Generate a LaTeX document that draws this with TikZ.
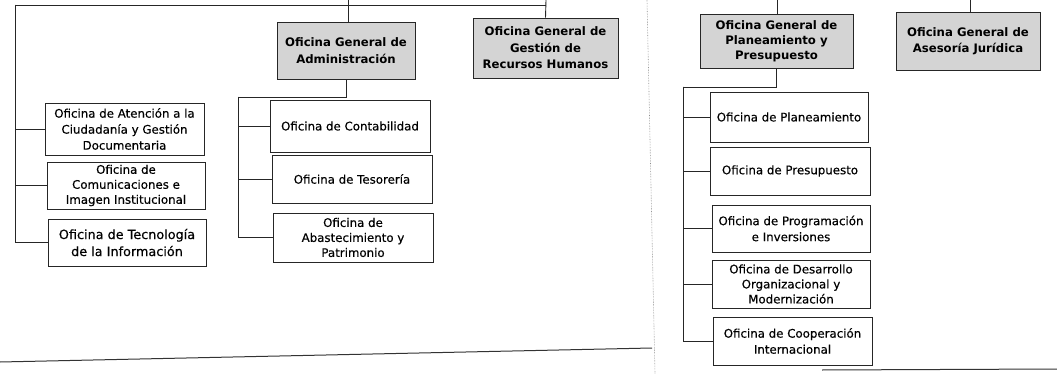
\documentclass[tikz,border=0pt]{standalone}
\usepackage{fontspec}
\setmainfont{DejaVu Sans}
\newfontfamily\medfont{DejaVu Sans}[FakeBold=0.35]
\begin{document}
\begin{tikzpicture}[x=1pt,y=-1pt,
  every node/.style={inner sep=2pt, align=center},
  office/.style={draw=black!85, line width=0.8pt, fill=white,
    font=\medfont\fontsize{11.8}{16}\selectfont},
  general/.style={draw=black!85, line width=0.8pt, fill=black!17,
    font=\bfseries\fontsize{11.7}{16.5}\selectfont},
  conn/.style={draw=black!85, line width=0.9pt},
  scanline/.style={draw=black!80, line width=1pt},
  seam/.style={draw=black!45, line width=0.6pt, densely dotted}]
\useasboundingbox (0,0) rectangle (1057,374);

% ---------- left page ----------
\node[general, minimum width=138pt, minimum height=57pt] (oga) at (346,50.5)
  {Oficina General de\\Administración};
\node[general, minimum width=145pt, minimum height=60pt] (rrhh) at (545.5,48)
  {Oficina General de\\Gestión de\\Recursos Humanos};

\node[office, minimum width=159pt, minimum height=52pt] (aten) at (124.5,129)
  {Oficina de Atención a la\\Ciudadanía y Gestión\\Documentaria};
\node[office, minimum width=158pt, minimum height=47pt,
  font=\medfont\fontsize{11.8}{15}\selectfont] (comu) at (126,185.5)
  {Oficina de\\Comunicaciones e\\Imagen Institucional};
\node[office, minimum width=158pt, minimum height=47pt,
  font=\medfont\fontsize{12.8}{17}\selectfont] (tecn) at (127,242.5)
  {Oficina de Tecnología\\de la Información};

\node[office, minimum width=160pt, minimum height=52pt] (cont) at (350,126)
  {Oficina de Contabilidad};
\node[office, minimum width=160pt, minimum height=48pt] (teso) at (352,179)
  {Oficina de Tesorería};
\node[office, minimum width=160pt, minimum height=49pt,
  font=\medfont\fontsize{11.8}{15}\selectfont] (abas) at (353,237.5)
  {Oficina de\\Abastecimiento y\\Patrimonio};

\coordinate (topL) at (15,5);
\coordinate (topR) at (546,5);
\coordinate (upA) at (348,0);
\coordinate (upB) at (546,0);
\coordinate (ogaj) at (238,97);

\draw[conn] (topL) -- (topR);
\draw[conn] (upA) -- (upA |- oga.north);
\draw[conn] (upB) -- (rrhh.north);
\draw[conn] (topL) |- (aten.west);
\draw[conn] (topL) |- (comu.west);
\draw[conn] (topL) |- (tecn.west);

\draw[conn] (oga.south) |- (ogaj);
\draw[conn] (ogaj) |- (cont.west);
\draw[conn] (ogaj) |- (teso.west);
\draw[conn] (ogaj) |- (abas.west);

% ---------- right page ----------
\node[general, minimum width=153pt, minimum height=54pt,
  font=\bfseries\fontsize{11.7}{15}\selectfont] (ogpp) at (776.5,41)
  {Oficina General de\\Planeamiento y\\Presupuesto};
\node[general, minimum width=144pt, minimum height=58pt] (ogaj2) at (968,41)
  {Oficina General de\\Asesoría Jurídica};

\node[office, minimum width=158pt, minimum height=50pt] (plan) at (789,117)
  {Oficina de Planeamiento};
\node[office, minimum width=160pt, minimum height=48pt] (pres) at (790,171)
  {Oficina de Presupuesto};
\node[office, minimum width=158pt, minimum height=47pt] (prog) at (791,228.5)
  {Oficina de Programación\\e Inversiones};
\node[office, minimum width=158pt, minimum height=48pt,
  font=\medfont\fontsize{11.8}{15}\selectfont] (desa) at (791,284)
  {Oficina de Desarrollo\\Organizacional y\\Modernización};
\node[office, minimum width=159pt, minimum height=48pt] (coop) at (792.5,341)
  {Oficina de Cooperación\\Internacional};

\coordinate (upC) at (777,0);
\coordinate (upD) at (970,0);
\coordinate (pj) at (683,87);

\draw[conn] (upC) -- (upC |- ogpp.north);
\draw[conn] (upD) -- (upD |- ogaj2.north);
\draw[conn] (ogpp.south) |- (pj);
\draw[conn] (pj) |- (plan.west);
\draw[conn] (pj) |- (pres.west);
\draw[conn] (pj) |- (prog.west);
\draw[conn] (pj) |- (desa.west);
\draw[conn] (pj) |- (coop.west);

% ---------- page edges ----------
\coordinate (sA) at (647,0);
\coordinate (sB) at (655,374);
\draw[seam] (sA) -- (sB);
\coordinate (bL1) at (0,362);
\coordinate (bL2) at (652,348);
\draw[scanline] (bL1) -- (bL2);
\coordinate (bR1) at (822,370);
\coordinate (bR2) at (1057,369);
\draw[scanline] (bR1) -- (bR2);
\end{tikzpicture}
\end{document}
